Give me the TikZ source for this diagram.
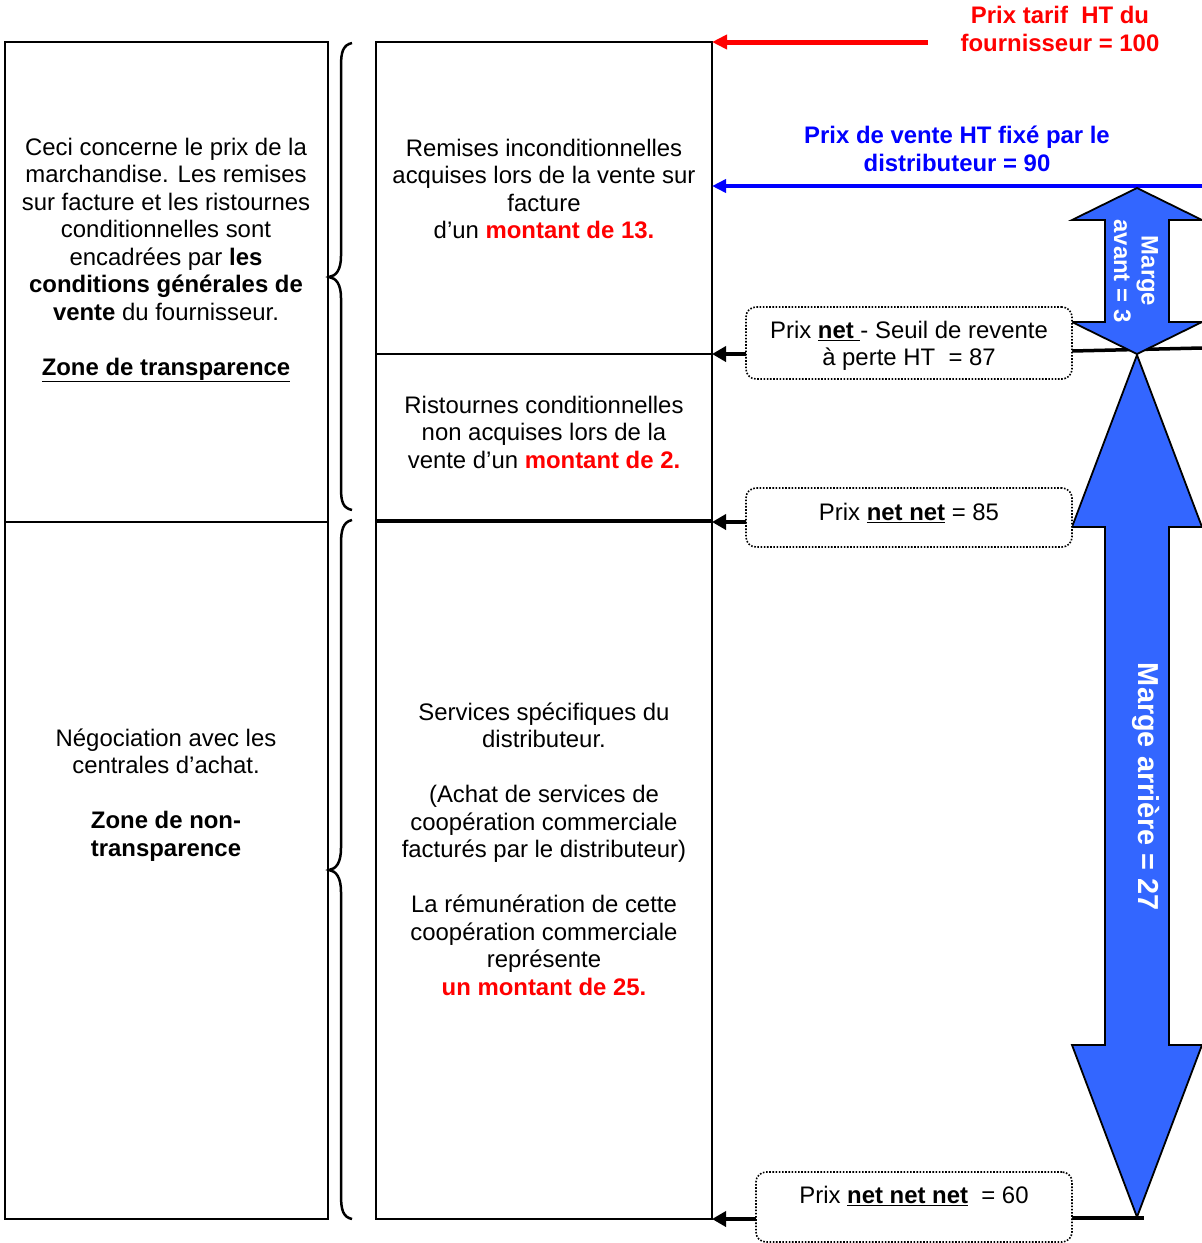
\documentclass[tikz,border=0pt]{standalone}
\usepackage{fontspec}
\setmainfont{Liberation Sans}
\usetikzlibrary{arrows.meta}
\definecolor{arrowblue}{RGB}{51,102,255}
\definecolor{txtred}{RGB}{255,0,0}
\definecolor{txtblue}{RGB}{0,0,255}
\begin{document}
\begin{tikzpicture}[x=1bp,y=-1bp,
  box/.style={draw, line width=2.5bp, anchor=north west, inner sep=0pt, outer sep=0pt},
  pbox/.style={draw, line width=1.6bp, dash pattern=on 1.6bp off 1.6bp, rounded corners=10bp, anchor=north west, inner sep=0pt, outer sep=0pt},
  txt/.style={align=center, font=\fontsize{24}{27.6}\selectfont, inner sep=0pt},
  bigtxt/.style={align=center, font=\fontsize{29}{33}\selectfont\bfseries, inner sep=0pt},
  blk/.style={line width=4bp, -{Triangle[length=14bp,width=15bp]}},
  brace/.style={line width=2.5bp},
  marge/.style={fill=arrowblue, draw=black, line width=1.8bp, line join=miter}]
\useasboundingbox (0,0) rectangle (1202,1243);
% left boxes
\node[box, minimum width=323bp, minimum height=480bp] (L1) at (5,42) {};
\node[box, minimum width=323bp, minimum height=697bp] (L2) at (5,522) {};
% middle column
\node[box, minimum width=336bp, minimum height=312bp] (M1) at (376,42) {};
\node[box, minimum width=336bp, minimum height=166bp] (M2) at (376,354) {};
\node[box, minimum width=336bp, minimum height=697bp] (M3) at (376,522) {};
% braces
\draw[brace] (352,43) .. controls (343,45) and (341,52) .. (341,66) -- (341,256)
  .. controls (341,270) and (336,276) .. (329,277)
  .. controls (336,278) and (341,284) .. (341,298) -- (341,488)
  .. controls (341,502) and (343,508) .. (352,510);
\draw[brace] (352,520) .. controls (343,522) and (341,530) .. (341,544) -- (341,848)
  .. controls (341,863) and (336,869) .. (329,870)
  .. controls (336,871) and (341,877) .. (341,892) -- (341,1195)
  .. controls (341,1210) and (343,1217) .. (352,1219);
% left texts
\node[txt] (tL1) at (166,260) {Ceci concerne le prix de la\\marchandise. Les remises\\sur facture et les ristournes\\conditionnelles sont\\encadrées par \textbf{les}\\\textbf{conditions générales de}\\\textbf{vente} du fournisseur.\\~\\\underline{\textbf{Zone de transparence}}};
\node[txt] (tL2) at (166,795) {Négociation avec les\\centrales d’achat.\\~\\\textbf{Zone de non-}\\\textbf{transparence}};
% middle texts
\node[txt] (tM1) at (544,189) {Remises inconditionnelles\\acquises lors de la vente sur\\facture\\d’un \textcolor{txtred}{\textbf{montant de 13.}}};
\node[txt] (tM2) at (544,432) {Ristournes conditionnelles\\non acquises lors de la\\vente d’un \textcolor{txtred}{\textbf{montant de 2.}}};
\node[txt] (tM3) at (544,849) {Services spécifiques du\\distributeur.\\~\\(Achat de services de\\coopération commerciale\\facturés par le distributeur)\\~\\La rémunération de cette\\coopération commerciale\\représente\\\textcolor{txtred}{\textbf{un montant de 25.}}};
% top labels
\node[txt, text=txtred, font=\fontsize{24}{27.6}\selectfont\bfseries] (tRed) at (1060,29) {Prix tarif~~HT du\\fournisseur = 100};
\node[txt, text=txtblue, font=\fontsize{24}{27.6}\selectfont\bfseries] (tBlue) at (957,149) {Prix de vente HT fixé par le\\distributeur = 90};
\coordinate (redstart) at (928,42);
\coordinate (bluestart) at (1202,186);
\draw[line width=5bp, draw=txtred, -{Triangle[length=15bp,width=14bp]}] (redstart) -- (M1.north east);
\draw[line width=4bp, draw=txtblue, -{Triangle[length=14bp,width=13bp]}] (bluestart) -- (M1.east |- bluestart);
% margin arrows
\draw[line width=3.5bp] (1072,351) -- (1202,348);
\draw[marge] (1137,188) -- (1202,220) -- (1169,220) -- (1169,322) -- (1202,322) -- (1137,354)
  -- (1072,322) -- (1105,322) -- (1105,220) -- (1072,220) -- cycle;
\draw[marge] (1137,355) -- (1202,527) -- (1169,527) -- (1169,1045) -- (1202,1045) -- (1137,1217)
  -- (1072,1045) -- (1105,1045) -- (1105,527) -- (1072,527) -- cycle;
\node[txt, text=white, rotate=-90, font=\fontsize{24}{27.6}\selectfont\bfseries] (tAvant) at (1136,271) {Marge\\avant = 3};
\node[bigtxt, text=white, rotate=-90] (tArr) at (1146,787) {Marge arrière = 27};
\draw[line width=3.5bp] (1072,1218) -- (1144,1218);
% price boxes
\node[pbox, fill=white, minimum width=326bp, minimum height=72bp] (P1) at (746,307) {};
\node[pbox, fill=white, minimum width=326bp, minimum height=59bp] (P2) at (746,488) {};
\node[pbox, fill=white, minimum width=316bp, minimum height=70bp] (P3) at (756,1172) {};
\node[txt] (tP1) at (909,346) {Prix \underline{\textbf{net} }- Seuil de revente\\à perte HT~~= 87};
\node[txt] (tP2) at (909,513) {Prix \underline{\textbf{net net}} = 85};
\node[txt] (tP3) at (914,1196) {Prix \underline{\textbf{net net net}}~~= 60};
\draw[blk] (P1.west |- M1.south) -- (M1.south east);
\draw[blk] (P2.west |- M3.north) -- (M3.north east);
\draw[blk] (P3.west |- M3.south) -- (M3.south east);
\end{tikzpicture}
\end{document}
